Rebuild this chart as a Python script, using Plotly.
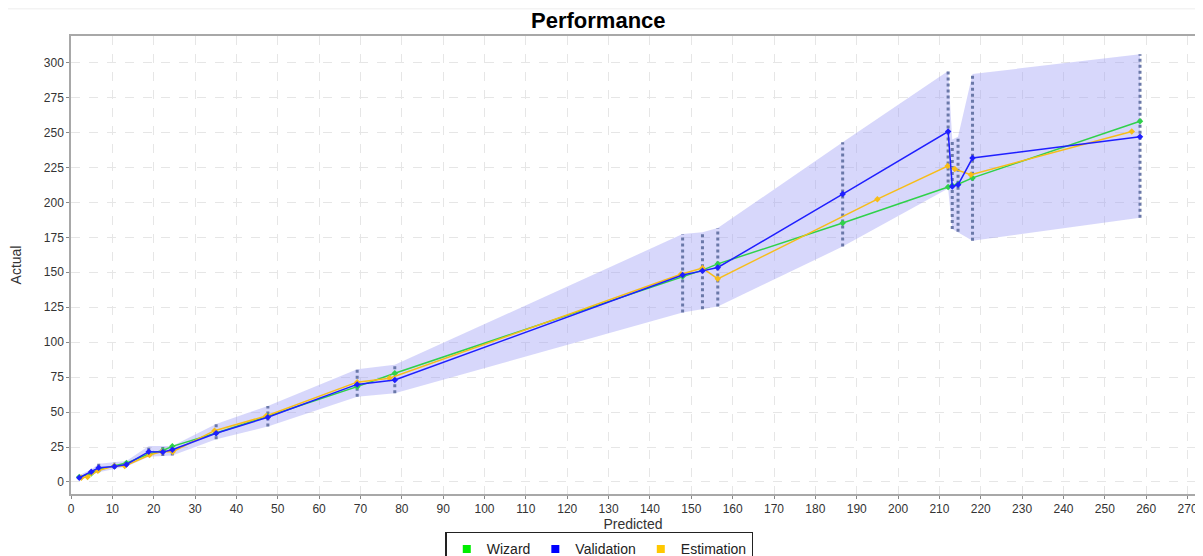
import plotly.graph_objects as go

# Shared predicted values (Wizard / Validation)
pred = [2.0, 4.9, 6.7, 10.5, 13.4, 18.8, 22.2, 24.5, 35.1, 47.6, 69.2, 78.3,
        147.9, 152.7, 156.4, 186.6, 212.1, 213.1, 214.5, 218.0, 258.5]
wizard = [3.5, 6.0, 9.0, 11.5, 13.5, 20.0, 22.5, 25.5, 35.0, 47.0, 68.2, 77.8,
          147.0, 151.5, 156.0, 185.2, 211.0, 212.0, 213.0, 217.5, 258.0]
validation = [3.0, 7.4, 10.2, 11.0, 12.5, 21.7, 21.5, 23.0, 34.8, 46.3, 69.8, 73.0,
              148.0, 151.0, 153.4, 205.9, 250.7, 211.4, 212.6, 231.7, 247.0]
band_low = [2.0, 5.0, 7.0, 9.5, 11.0, 18.1, 18.5, 19.0, 30.5, 39.6, 61.0, 63.5,
            121.2, 123.6, 125.5, 168.4, 210.0, 181.0, 179.0, 172.5, 189.0]
band_high = [5.0, 9.0, 13.0, 14.0, 15.0, 25.8, 25.8, 25.8, 41.5, 54.4, 80.7, 83.8,
             177.3, 178.7, 181.6, 243.0, 294.0, 245.0, 247.0, 291.8, 306.0]

est_x = [2.5, 4.0, 6.5, 10.5, 13.0, 19.0, 22.0, 24.6, 34.7, 47.2, 69.2, 77.0,
         147.5, 152.7, 156.4, 195.0, 212.0, 213.7, 217.6, 256.5]
est_y = [3.0, 3.5, 8.0, 11.5, 11.5, 19.3, 21.7, 21.7, 36.7, 47.2, 71.4, 74.2,
         148.6, 153.0, 145.3, 202.3, 226.0, 223.8, 219.8, 250.7]

x_ticks = list(range(0, 280, 10))
y_ticks = list(range(0, 325, 25))

GREEN = "#2fd14a"
BLUE = "#1f1fff"
YELLOW = "#f7bd18"

fig = go.Figure()

# Interval band
fig.add_trace(go.Scatter(
    x=pred + pred[::-1], y=band_high + band_low[::-1],
    fill="toself", fillcolor="rgba(160,160,245,0.42)",
    line=dict(width=0), mode="lines", hoverinfo="skip", showlegend=False))

# Vertical dotted interval lines
vx, vy = [], []
for p, lo, hi in zip(pred, band_low, band_high):
    vx += [p, p, None]
    vy += [lo, hi, None]
fig.add_trace(go.Scatter(x=vx, y=vy, mode="lines",
                         line=dict(color="#6a78a8", width=3, dash="dot"),
                         hoverinfo="skip", showlegend=False))

fig.add_trace(go.Scatter(x=pred, y=wizard, mode="lines+markers", name="Wizard",
                         line=dict(color=GREEN, width=1.5),
                         marker=dict(color=GREEN, size=5, symbol="diamond"),
                         showlegend=False))
fig.add_trace(go.Scatter(x=est_x, y=est_y, mode="lines+markers", name="Estimation",
                         line=dict(color=YELLOW, width=1.5),
                         marker=dict(color=YELLOW, size=5, symbol="diamond"),
                         showlegend=False))
fig.add_trace(go.Scatter(x=pred, y=validation, mode="lines+markers", name="Validation",
                         line=dict(color=BLUE, width=1.5),
                         marker=dict(color=BLUE, size=5, symbol="diamond"),
                         showlegend=False))

# Legend entries with square swatches
for name, col in [("Wizard", "#00ee00"), ("Validation", "#0000ff"), ("Estimation", "#ffc800")]:
    fig.add_trace(go.Scatter(x=[None], y=[None], mode="markers", name=name,
                             marker=dict(color=col, size=8, symbol="square")))

grid = dict(showgrid=True, gridcolor="#e6e6e6", griddash="dash", gridwidth=1,
            showline=True, linecolor="#a8a8a8", linewidth=1.5, mirror=True,
            ticks="outside", ticklen=3, tickcolor="#888888",
            tickfont=dict(size=12, color="#333333"), zeroline=False,
            automargin=False)

fig.update_layout(
    width=1195, height=548,
    margin=dict(l=63, r=8, t=28, b=62),
    paper_bgcolor="white", plot_bgcolor="white",
    font=dict(family="Liberation Sans, Arial, sans-serif", color="#222222"),
    title=dict(text="<b>Performance</b>", x=0.494, xanchor="center",
               y=0.978, yanchor="middle", automargin=False,
               font=dict(size=22, color="black")),
    xaxis=dict(range=[0, 271.8], tickvals=x_ticks,
               title=dict(text="Predicted", font=dict(size=14, color="#333333"), standoff=4), **grid),
    yaxis=dict(range=[-8.6, 319], tickvals=y_ticks,
               title=dict(text="Actual", font=dict(size=14, color="#333333"), standoff=22), **grid),
    legend=dict(orientation="h", x=0.47, xanchor="center",
                yref="container", y=0.044, yanchor="top",
                bordercolor="#222222", borderwidth=1.5, font=dict(size=14, color="#222222"),
                itemwidth=30, tracegroupgap=0),
    showlegend=True,
    shapes=[dict(type="line", xref="paper", yref="paper", x0=-0.06, x1=1.0,
                 y0=1.061, y1=1.061, line=dict(color="#f3f3f3", width=3))],
)

fig.write_html("out.html")
